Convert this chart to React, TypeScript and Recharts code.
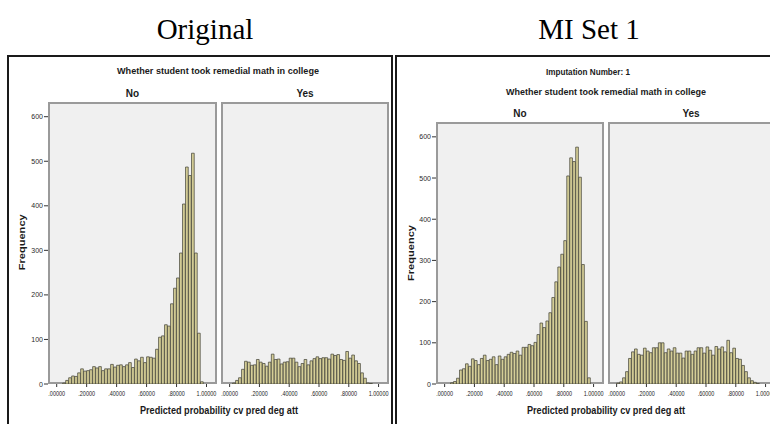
import { BarChart, Bar, XAxis, YAxis } from 'recharts'

const FONT = "'Liberation Sans', Arial, sans-serif"
const SERIF = "'Liberation Serif', 'Times New Roman', serif"

// histogram bins (left edges), width 0.02
const BINS = [
  0.00, 0.02, 0.04, 0.06, 0.08, 0.10, 0.12, 0.14, 0.16, 0.18,
  0.20, 0.22, 0.24, 0.26, 0.28, 0.30, 0.32, 0.34, 0.36, 0.38,
  0.40, 0.42, 0.44, 0.46, 0.48, 0.50, 0.52, 0.54, 0.56, 0.58,
  0.60, 0.62, 0.64, 0.66, 0.68, 0.70, 0.72, 0.74, 0.76, 0.78,
  0.80, 0.82, 0.84, 0.86, 0.88, 0.90, 0.92, 0.94, 0.96, 0.98,
]
const BIN_W = 0.02

const ORIG_NO = [
  0, 0, 2, 8, 14, 18, 17, 25, 34, 29,
  30, 32, 39, 36, 39, 30, 34, 34, 44, 38,
  42, 43, 39, 43, 48, 37, 56, 52, 60, 48,
  61, 60, 58, 78, 105, 108, 133, 130, 180, 215,
  238, 294, 404, 487, 468, 518, 294, 114, 5, 0,
]
const ORIG_YES = [
  0, 2, 8, 14, 33, 51, 49, 42, 43, 55,
  49, 46, 40, 49, 67, 55, 56, 45, 49, 50,
  58, 58, 49, 39, 46, 55, 43, 52, 57, 61,
  57, 59, 59, 56, 67, 64, 66, 55, 53, 73,
  58, 65, 52, 46, 25, 13, 2, 1, 0, 0,
]
const MI_NO = [
  0, 0, 3, 6, 14, 34, 37, 49, 43, 61,
  57, 47, 62, 70, 57, 60, 66, 47, 68, 60,
  66, 72, 77, 74, 80, 70, 89, 89, 96, 93,
  101, 120, 148, 137, 153, 173, 210, 248, 284, 315,
  348, 505, 549, 540, 575, 502, 290, 152, 15, 0,
]
const MI_YES = [
  2, 5, 15, 30, 62, 78, 85, 72, 70, 87,
  80, 76, 88, 88, 100, 100, 76, 85, 80, 88,
  75, 75, 63, 80, 80, 72, 80, 88, 88, 75,
  90, 82, 70, 91, 85, 90, 78, 106, 76, 87,
  62, 60, 45, 30, 15, 8, 4, 1, 0, 0,
]

const X_TICKS = [0, 0.2, 0.4, 0.6, 0.8, 1]
const Y_TICKS = [0, 100, 200, 300, 400, 500, 600]
const X_MIN = -0.058
const X_MAX = 1.07

const Y_W = 30   // room for y ticks
const X_H = 20   // room for x ticks
const R_PAD = 14 // room for the 1.00000 label

type Box = { x: number; y: number; w: number; h: number }
type TickProps = { x?: number; y?: number; payload?: { value: number } }

const fmtX = (v: number) => v.toFixed(5).replace(/^0/, '')

function XTick(props: TickProps) {
  const label = fmtX(props.payload?.value ?? 0)
  const digits = label.replace('.', '').length
  return (
    <text x={props.x} y={(props.y ?? 0) + 6.5} textAnchor="middle" fontSize={8} fontFamily={FONT}
      fill="#1e1e1e" textLength={digits * 3.1 + 1.2} lengthAdjust="spacingAndGlyphs">
      {label}
    </text>
  )
}

function YTick(props: TickProps) {
  return (
    <text x={props.x} y={(props.y ?? 0) + 2.5} textAnchor="end" fontSize={7} fontFamily={FONT} fill="#2a2a2a">
      {props.payload?.value}
    </text>
  )
}

function Panel({ box, values, yMax, showY }: { box: Box; values: number[]; yMax: number; showY: boolean }) {
  const data = BINS.map((b, i) => ({ x: b + BIN_W / 2, n: values[i] }))
  const barSize = (BIN_W * box.w) / (X_MAX - X_MIN)
  const width = box.w + Y_W + R_PAD
  const height = box.h + X_H
  return (
    <>
      <div style={{
        position: 'absolute', left: box.x, top: box.y, width: box.w, height: box.h,
        background: '#f0f0f0', border: '2px solid #9a9a9a', boxSizing: 'border-box',
      }} />
      <div style={{ position: 'absolute', left: box.x - Y_W, top: box.y, width, height }}>
        <BarChart width={width} height={height} data={data} margin={{ top: 0, right: R_PAD, bottom: 0, left: 0 }}>
          <XAxis
            dataKey="x" type="number" domain={[X_MIN, X_MAX]} ticks={X_TICKS} interval={0}
            allowDataOverflow axisLine={false} tickSize={3} tickMargin={2}
            tickLine={{ stroke: '#333' }} tick={XTick} height={X_H}
          />
          <YAxis
            type="number" domain={[0, yMax]} ticks={Y_TICKS} interval={0} allowDataOverflow
            width={Y_W} axisLine={false} tickSize={4} tickMargin={1}
            tickLine={showY ? { stroke: '#333' } : false}
            tick={showY ? YTick : false}
          />
          <Bar dataKey="n" fill="#d5ce97" stroke="#3d3d33" strokeWidth={0.7} barSize={barSize} isAnimationActive={false} />
        </BarChart>
      </div>
    </>
  )
}

const ORIG = { no: { x: 48, y: 102, w: 169, h: 282 }, yes: { x: 221, y: 102, w: 168, h: 282 } }
const MI = { no: { x: 436, y: 122, w: 168, h: 262 }, yes: { x: 608, y: 122, w: 168, h: 262 } }

const TITLE = 'Whether student took remedial math in college'
const XLABEL = 'Predicted probability cv pred deg att'

export default function App() {
  const bold = { fontFamily: FONT, fontWeight: 700, fill: '#1a1a1a' } as const
  return (
    <div style={{ position: 'absolute', left: 0, top: 0, width: 770, height: 424, overflow: 'hidden', background: '#fff' }}>
      <svg width={770} height={424} style={{ position: 'absolute', left: 0, top: 0 }}>
        <text x={205} y={39} fontSize={29} fontFamily={SERIF} textAnchor="middle" fill="#000">Original</text>
        <text x={589} y={39} fontSize={29} fontFamily={SERIF} textAnchor="middle" fill="#000">MI Set 1</text>

        {/* frames */}
        <rect x={8} y={56} width={384} height={400} fill="none" stroke="#1a1a1a" strokeWidth={2} />
        <rect x={396} y={56} width={400} height={400} fill="none" stroke="#1a1a1a" strokeWidth={2} />

        {/* original */}
        <text x={218} y={73.5} fontSize={9.5} textAnchor="middle" textLength={202} lengthAdjust="spacingAndGlyphs" {...bold}>{TITLE}</text>
        <text x={132.5} y={96.7} fontSize={10} textAnchor="middle" {...bold}>No</text>
        <text x={305} y={96.7} fontSize={10} textAnchor="middle" {...bold}>Yes</text>
        <text transform="translate(25,242.3) rotate(-90)" fontSize={9.5} textAnchor="middle" textLength={56} lengthAdjust="spacingAndGlyphs" {...bold}>Frequency</text>
        <text x={219} y={413.5} fontSize={10.5} textAnchor="middle" textLength={158} lengthAdjust="spacingAndGlyphs" {...bold}>{XLABEL}</text>

        {/* imputation 1 */}
        <text x={588} y={75} fontSize={8.5} textAnchor="middle" textLength={84} lengthAdjust="spacingAndGlyphs" {...bold}>Imputation Number: 1</text>
        <text x={606} y={95} fontSize={9.5} textAnchor="middle" textLength={200} lengthAdjust="spacingAndGlyphs" {...bold}>{TITLE}</text>
        <text x={520} y={116.7} fontSize={10} textAnchor="middle" {...bold}>No</text>
        <text x={691} y={116.7} fontSize={10} textAnchor="middle" {...bold}>Yes</text>
        <text transform="translate(414,253) rotate(-90)" fontSize={9.5} textAnchor="middle" textLength={56} lengthAdjust="spacingAndGlyphs" {...bold}>Frequency</text>
        <text x={606} y={413.5} fontSize={10.5} textAnchor="middle" textLength={158} lengthAdjust="spacingAndGlyphs" {...bold}>{XLABEL}</text>
      </svg>

      <Panel box={ORIG.no} values={ORIG_NO} yMax={633} showY />
      <Panel box={ORIG.yes} values={ORIG_YES} yMax={633} showY={false} />
      <Panel box={MI.no} values={MI_NO} yMax={636} showY />
      <Panel box={MI.yes} values={MI_YES} yMax={636} showY={false} />
    </div>
  )
}
